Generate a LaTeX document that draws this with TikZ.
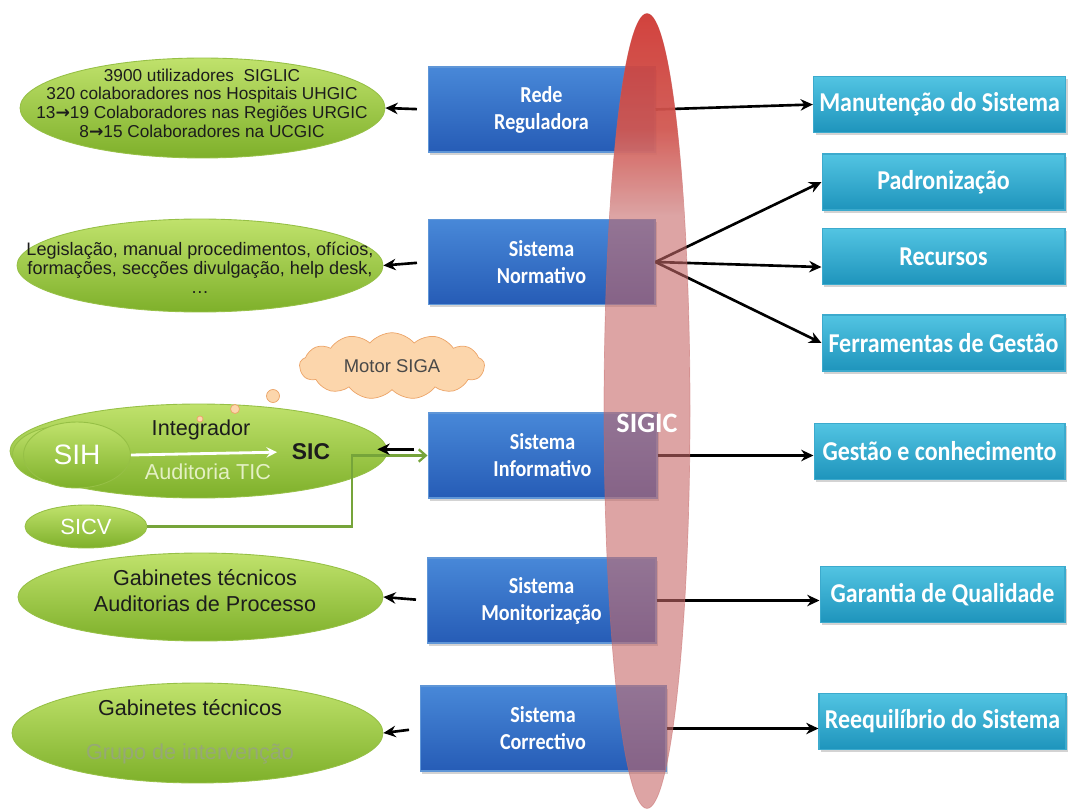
\documentclass[tikz,border=0pt]{standalone}
\usepackage{fontspec}
\setmainfont{Liberation Sans}
\newfontfamily\boxfont[FakeStretch=0.88]{Carlito}
\newfontfamily\sigicfont{Carlito}
\newfontfamily\arrowfont{DejaVu Sans}
\usepackage{tikz}
\usetikzlibrary{arrows}
\usetikzlibrary{arrows.meta}
\usetikzlibrary{shapes}
\usetikzlibrary{shapes.geometric}
\usetikzlibrary{shapes.symbols}
\usetikzlibrary{shadows}
\usetikzlibrary{calc}
\usetikzlibrary{positioning}

\definecolor{sysbluetop}{RGB}{72,136,216}
\definecolor{sysbluebot}{RGB}{38,92,182}
\definecolor{sysedge}{RGB}{95,150,215}
\definecolor{rescyantop}{RGB}{82,196,226}
\definecolor{rescyanbot}{RGB}{30,148,188}
\definecolor{resedge}{RGB}{60,170,205}
\definecolor{greentop}{RGB}{192,226,108}
\definecolor{greenbot}{RGB}{126,176,42}
\definecolor{greenedge}{RGB}{150,192,70}
\definecolor{greenline}{RGB}{118,164,58}
\definecolor{audgreen}{RGB}{228,240,196}
\definecolor{grupogrey}{RGB}{150,168,118}
\definecolor{cloudfill}{RGB}{252,214,172}
\definecolor{cloudedge}{RGB}{236,164,104}
\definecolor{sigicdeep}{RGB}{207,46,40}
\definecolor{sigicmid}{RGB}{210,85,78}
\definecolor{sigicblend}{RGB}{221,164,164}
\definecolor{sigicpink}{RGB}{198,104,104}
\definecolor{textdark}{RGB}{28,28,28}

\pgfdeclareverticalshading{sigictop}{100bp}{color(0bp)=(sigicblend); color(25bp)=(sigicblend); color(45bp)=(sigicmid); color(75bp)=(sigicdeep); color(100bp)=(sigicdeep)}

\newcommand{\arr}{{\arrowfont\bfseries →}}

\tikzstyle{sysbox} = [
    rectangle,
    draw=sysedge,
    line width=0.6pt,
    top color=sysbluetop,
    bottom color=sysbluebot,
    text=white,
    align=center,
    font=\boxfont\bfseries\fontsize{13}{15.3}\selectfont,
    minimum height=1.7cm,
    drop shadow={opacity=0.35, shadow xshift=1.2pt, shadow yshift=-1.5pt}
]
\tikzstyle{resbox} = [
    rectangle,
    draw=resedge,
    line width=0.6pt,
    top color=rescyantop,
    bottom color=rescyanbot,
    text=white,
    font=\boxfont\bfseries\fontsize{15.5}{18}\selectfont,
    minimum height=1.12cm,
    drop shadow={opacity=0.35, shadow xshift=1.2pt, shadow yshift=-1.5pt}
]
\tikzstyle{infoell} = [
    ellipse,
    draw=greenedge,
    line width=0.5pt,
    top color=greentop,
    bottom color=greenbot,
    inner sep=0pt
]
\tikzstyle{infotxt} = [align=center, text=textdark]
\tikzstyle{bubble}  = [circle, draw=cloudedge, fill=cloudfill, inner sep=0pt]
\tikzstyle{tran}    = [
    draw,
    ->,
    >={Stealth[length=7pt,width=6.5pt]},
    line width=1.5pt
]

\begin{document}
\begin{tikzpicture}[x=0.02cm, y=-0.02cm]

\useasboundingbox (0,0) rectangle (1070,810);

% the five subsystems
\node[sysbox, minimum width=4.54cm] (rede)        at (541.5,109.5) {Rede\\Reguladora};
\node[sysbox, minimum width=4.54cm] (normativo)   at (541.5,262)   {Sistema\\Normativo};
\node[sysbox, minimum width=4.58cm] (informativo) at (542.5,455.5) {Sistema\\Informativo};
\node[sysbox, minimum width=4.58cm] (monitor)     at (541.5,600.5) {Sistema\\Monitorização};
\node[sysbox, minimum width=4.92cm] (correctivo)  at (543,728.5)   {Sistema\\Correctivo};

\node[resbox, minimum width=5.02cm] (manut)    at (939.5,104.5) {Manutenção do Sistema};
\node[resbox, minimum width=4.86cm] (padron)   at (943.5,182)   {Padronização};
\node[resbox, minimum width=4.86cm] (recursos) at (943.5,256.5) {Recursos};
\node[resbox, minimum width=4.86cm] (ferram)   at (943.5,343)   {Ferramentas de Gestão};
\node[resbox, minimum width=5.02cm] (gestao)   at (939.5,451.5) {Gestão e conhecimento};
\node[resbox, minimum width=4.90cm] (garantia) at (942.5,594.5) {Garantia de Qualidade};
\node[resbox, minimum width=4.90cm] (reequil)  at (942.5,721.5) {Reequilíbrio do Sistema};

% green side
\node[infoell, minimum width=7.30cm, minimum height=2.00cm] (redeinfo)   at (202.5,108)   {};
\node[infoell, minimum width=7.32cm, minimum height=1.86cm] (normainfo)  at (200,265.5)   {};
\node[infoell, minimum width=7.54cm, minimum height=1.88cm] (sic)        at (198.5,451)   {};
\node[infoell, minimum width=2.06cm, minimum height=1.16cm] (sihback)    at (64,455)      {};
\node[infoell, minimum width=2.14cm, minimum height=1.32cm,
      text=white, font=\fontsize{16}{16}\selectfont]        (sih)        at (77,455)      {SIH};
\node[infoell, minimum width=2.44cm, minimum height=0.86cm,
      text=white, font=\fontsize{12.5}{12.5}\selectfont]    (sicv)       at (86,526.5)    {SICV};
\node[infoell, minimum width=7.30cm, minimum height=1.76cm] (monitinfo)  at (200.5,597)   {};
\node[infoell, minimum width=7.42cm, minimum height=2.00cm] (correcinfo) at (197.5,733)   {};

\node[infotxt, font=\fontsize{9.8}{10.6}\selectfont] (redeinfotxt) at (202,103)
{3900 utilizadores\ \ SIGLIC\\320 colaboradores nos Hospitais UHGIC\\13\arr19 Colaboradores nas Regiões URGIC\\8\arr15 Colaboradores na UCGIC};
\node[infotxt, font=\fontsize{10.3}{10.8}\selectfont] (normainfotxt) at (200,268)
{Legislação, manual procedimentos, ofícios,\\formações, secções divulgação, help desk,\\…};
\node[infotxt, font=\fontsize{12.3}{12.3}\selectfont] (integ)  at (201,430) {Integrador};
\node[font=\fontsize{12.3}{12.3}\selectfont, text=audgreen] (audtic) at (208,472) {Auditoria TIC};
\node[font=\bfseries\fontsize{13}{13}\selectfont, text=textdark] (sictxt) at (311,452) {SIC};
\node[infotxt, font=\fontsize{12.3}{14.7}\selectfont] (monitinfotxt) at (205,591)
{Gabinetes técnicos\\Auditorias de Processo};
\node[infotxt, font=\fontsize{12.3}{14.7}\selectfont] (correcinfotxt) at (190,732)
{Gabinetes técnicos\\[10pt]\textcolor{grupogrey}{Grupo de intervenção}};

\node[cloud, cloud puffs=13, cloud puff arc=100, aspect=3, draw=cloudedge, fill=cloudfill,
      minimum width=3.7cm, minimum height=1.24cm, text=textdark!80,
      font=\fontsize{10.5}{10.5}\selectfont] (motor) at (392,366) {Motor SIGA};
\node[bubble, minimum size=0.26cm] (bub1) at (273,396) {};
\node[bubble, minimum size=0.18cm] (bub2) at (235,409) {};
\node[bubble, minimum size=0.12cm] (bub3) at (200,419) {};

\draw[white, line width=1.6pt, ->, >=stealth, shorten >=5pt] (sih.east) -- (sictxt.west);

\coordinate (sicvturn) at (352,526.5);
\draw[greenline, line width=1.3pt, -{Straight Barb[length=4pt,width=7pt]}]
    (sicv.east) -- (sicvturn) |- (informativo.west);

\draw[tran, shorten <=6pt] (rede.west)        to (redeinfo.east);
\draw[tran, shorten <=6pt] (normativo.west)   to (normainfo.east);
\draw[tran] ($(informativo.west)+(-14,-6.2)$) to ($(informativo.west -| sic.east)+(-10,-6.2)$);
\draw[tran, shorten <=6pt] (monitor.west)     to (monitinfo.east);
\draw[tran, shorten <=6pt] (correctivo.west)  to (correcinfo.east);

\draw[tran] (rede.east)      to (manut.west);
\draw[tran] (normativo.east) to (padron.west);
\draw[tran] (normativo.east) to ([yshift=-6pt]recursos.west);
\draw[tran] (normativo.east) to (ferram.west);
\draw[tran] (informativo.east) to (informativo.east -| gestao.west);
\draw[tran] (monitor.east)     to (monitor.east -| garantia.west);
\draw[tran] (correctivo.east)  to (correctivo.east -| reequil.west);

% SIGIC over everything, red at the top
\node[ellipse, fill=sigicpink, fill opacity=0.6, draw=sigicpink, draw opacity=0.5,
      minimum width=1.72cm, minimum height=15.9cm, inner sep=0pt] (sigic) at (647,411) {};
\begin{scope}
\clip (sigic.center) ellipse [x radius=43, y radius=397.5];
\shade[shading=sigictop, fill opacity=0.85] (600,0) rectangle (700,215);
\end{scope}
\node[text=white, font=\sigicfont\bfseries\fontsize{16}{16}\selectfont] (sigiclbl) at (647,423) {SIGIC};

\end{tikzpicture}
\end{document}
